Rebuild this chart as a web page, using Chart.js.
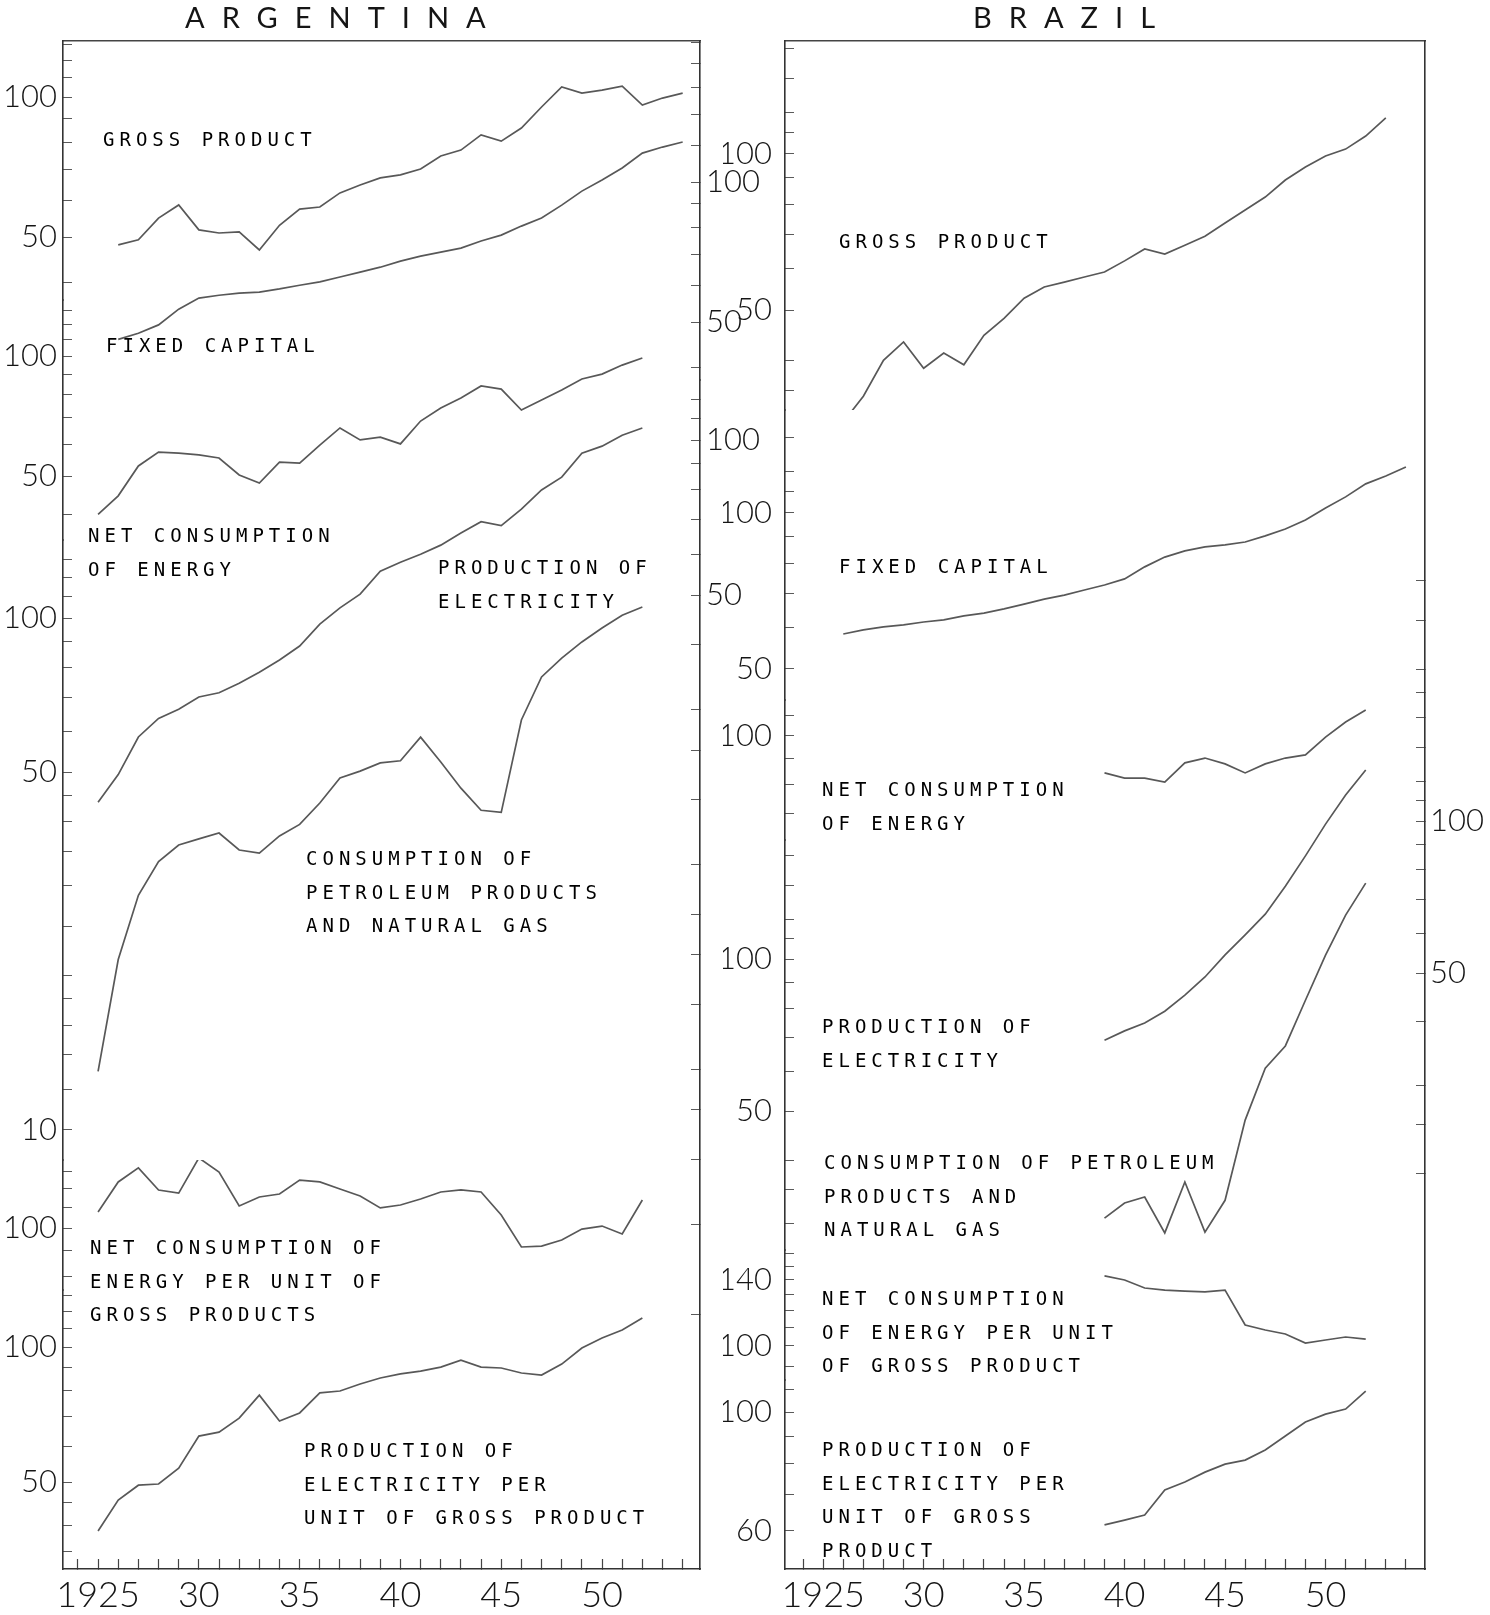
<!DOCTYPE html>
<html>
<head>
<meta charset="utf-8">
<script src="https://cdn.jsdelivr.net/npm/chart.js@4.4.1/dist/chart.umd.min.js"></script>
<style>
  html, body { margin: 0; padding: 0; background: #ffffff; }
  #wrap { position: relative; width: 1490px; height: 1615px; overflow: hidden; background: #ffffff; }
  canvas { position: absolute; top: 0; }
  #cArg { left: 0px; }
  #cBra { left: 700px; }
</style>
</head>
<body>
<div id="wrap">
  <canvas id="cArg" width="780" height="1615"></canvas>
  <canvas id="cBra" width="790" height="1615"></canvas>
</div>
<script>
// ================= DATA (index numbers) =================
const xTickYears  = [1925, 1930, 1935, 1940, 1945, 1950];
const xTickLabels = ['1925', '30', '35', '40', '45', '50'];
const xMarkYears  = [1924,1925,1926,1927,1928,1929,1930,1931,1932,1933,1934,1935,1936,1937,1938,1939,
                     1940,1941,1942,1943,1944,1945,1946,1947,1948,1949,1950,1951,1952,1953,1954];

// ---- Argentina ----
const argYearsTop = [1926,1927,1928,1929,1930,1931,1932,1933,1934,1935,1936,1937,1938,1939,1940,
                     1941,1942,1943,1944,1945,1946,1947,1948,1949,1950,1951,1952,1953,1954];
const argYears    = [1925,1926,1927,1928,1929,1930,1931,1932,1933,1934,1935,1936,1937,1938,1939,1940,
                     1941,1942,1943,1944,1945,1946,1947,1948,1949,1950,1951,1952];

const argGrossProduct = [48.1,49.3,54.9,58.6,51.8,51.0,51.3,46.9,53.0,57.4,58.0,62.2,64.7,67.0,68.0,
                         70.0,74.7,76.9,82.9,80.4,85.8,95.2,105.1,102.0,103.5,105.6,96.1,99.5,102.0];
const argFixedCapital = [45.9,47.3,49.3,53.3,56.3,57.1,57.7,58.0,58.9,60.0,61.0,62.5,64.0,65.6,67.6,
                         69.3,70.7,72.1,74.7,76.9,80.4,83.7,89.2,95.6,101.0,107.2,115.4,118.9,121.9];
const argEnergy       = [40.1,44.6,53.0,57.4,57.1,56.5,55.5,50.3,48.0,54.2,53.9,59.8,66.0,61.6,62.6,60.2,
                         68.7,74.1,78.5,84.1,82.6,73.2,77.6,82.2,87.6,90.1,94.9,98.9];
const argElectricity  = [19.8,22.4,26.5,28.8,30.0,31.7,32.3,33.7,35.4,37.4,39.8,43.9,47.2,50.2,55.6,57.9,
                         60.0,62.5,66.0,69.4,68.2,73.4,80.0,84.7,94.3,97.3,102.2,105.5];
const argPetroleum    = [13.0,21.5,28.7,33.4,36.0,37.0,38.0,35.2,34.7,37.5,39.5,43.5,48.7,50.2,52.1,52.6,
                         58.5,52.3,46.5,42.1,41.7,63.2,76.7,83.5,89.8,95.6,101.3,105.1];
const argEnergyPerGP  = [107.7,123.7,132.0,119.2,117.5,138.2,129.5,110.7,115.4,117.0,124.8,123.7,119.7,115.9,
                         109.7,111.2,114.3,118.1,119.2,118.1,106.2,91.6,92.0,94.6,99.5,100.9,97.3,113.8];
const argElecPerGP    = [38.9,45.6,49.2,49.5,53.7,63.3,64.6,69.4,78.1,68.4,71.3,79.0,79.8,82.7,85.3,87.1,
                         88.4,90.2,93.5,90.2,89.8,87.5,86.6,91.6,99.5,104.7,109.1,116.1];

// ---- Brazil ----
const braYearsGP = [1926,1927,1928,1929,1930,1931,1932,1933,1934,1935,1936,1937,1938,1939,1940,
                    1941,1942,1943,1944,1945,1946,1947,1948,1949,1950,1951,1952,1953];
const braYearsFC = [1926,1927,1928,1929,1930,1931,1932,1933,1934,1935,1936,1937,1938,1939,1940,
                    1941,1942,1943,1944,1945,1946,1947,1948,1949,1950,1951,1952,1953,1954];
const braYears   = [1939,1940,1941,1942,1943,1944,1945,1946,1947,1948,1949,1950,1951,1952];

const braGrossProduct = [30.4,34.1,40.0,43.4,38.6,41.3,39.2,44.7,48.2,52.7,55.4,56.6,57.9,59.2,
                         62.2,65.6,64.1,66.7,69.4,73.6,78.0,82.6,89.1,94.4,99.1,102.2,108.3,117.4];
const braFixedCapital = [58.4,59.5,60.3,60.8,61.6,62.2,63.3,64.1,65.3,66.7,68.2,69.4,71.0,72.6,74.6,
                         78.7,82.2,84.5,86.0,86.8,87.9,90.3,93.1,96.9,102.2,107.4,113.8,117.8,122.7];
const braEnergy       = [84.3,82.3,82.3,80.8,88.3,90.3,87.9,84.3,87.9,90.3,91.6,99.5,106.7,112.8];
const braElectricity  = [36.8,38.4,39.8,42.0,45.2,49.1,54.3,59.5,65.4,74.3,85.3,98.6,112.6,126.2];
const braPetroleum    = [30.7,32.9,33.8,28.7,36.2,28.8,33.3,48.0,60.8,67.3,82.9,101.8,122.2,141.4];
const braEnergyPerGP  = [142.9,140.0,134.4,133.0,132.3,131.7,133.0,111.3,108.5,106.3,101.5,103.1,104.7,103.6];
const braElecPerGP    = [61.5,62.8,64.2,71.5,74.0,77.2,79.9,81.3,84.9,90.2,95.8,99.1,101.3,109.4];

// ================= LAYOUT / STYLE =================
const LINE_COLOR = '#585858';
const INK = '#151515';
const NUM_FONT = "Lato, 'DejaVu Sans', sans-serif";
const NOTE_FONT = "'DejaVu Sans Mono', 'Liberation Mono', monospace";

// stacked log axes, listed top to bottom: each owns a horizontal band (weight = band height);
// the lines may run past their band, the scale simply extends
const argAxes = {
  a1:  { pos: 'left',  w: 259,  min: 36.60, max: 132.0, labels: [50, 100],     marks: [40,50,60,70,80,90,100,110,120,130] },
  a2:  { pos: 'left',  w: 240,  min: 34.56, max: 138.2, labels: [50, 100],     marks: [40,50,60,70,80,90,100,110,120,130] },
  a3:  { pos: 'left',  w: 620,  min: 8.72,  max: 142.1, labels: [10, 50, 100], marks: [10,12,14,16,18,20,25,30,35,40,45,50,60,70,80,90,100,110,120,130] },
  a4:  { pos: 'left',  w: 130,  min: 75.10, max: 136.9, labels: [100],         marks: [80,90,100,110,120,130] },
  a5:  { pos: 'left',  w: 279,  min: 32.0,  max: 134.0, labels: [50, 100],     marks: [35,40,45,50,60,70,80,90,100,110,120,130] },
  ar1: { pos: 'right', w: 339,  min: 37.53, max: 201.0, labels: [50, 100],     marks: [40,50,60,70,80,90,100,120,140,160,180,200] },
  ar2: { pos: 'right', w: 1189, min: 0.6417, max: 130.8, labels: [50, 100],    marks: [2,3,4,5,6,8,10,12,15,20,25,30,40,50,60,70,80,90,100,110,120] }
};
const braAxes = {
  b1:  { pos: 'left',  w: 369,  min: 32.07, max: 165.2, labels: [50, 100],  marks: [35,40,50,60,70,80,90,100,110,120,140,160] },
  b2:  { pos: 'left',  w: 290,  min: 43.56, max: 158.0, labels: [50, 100],  marks: [50,60,70,80,90,100,110,120,140] },
  b3:  { pos: 'left',  w: 140,  min: 61.82, max: 118.1, labels: [100],      marks: [70,80,90,100,110] },
  b4:  { pos: 'left',  w: 410,  min: 26.55, max: 172.1, labels: [50, 100],  marks: [30,35,40,50,60,70,80,90,100,110,120,140,160] },
  b5:  { pos: 'left',  w: 130,  min: 84.09, max: 163.1, labels: [100, 140], marks: [90,100,110,120,130,140,150,160] },
  b6:  { pos: 'left',  w: 189,  min: 50.87, max: 114.8, labels: [60, 100],  marks: [60,70,80,90,100,110] },
  br:  { pos: 'right', w: 1528, min: 3.30,  max: 3507,  labels: [50, 100],  marks: [20,25,30,40,50,60,70,80,90,100,110,120,140,160,180,200,250,300] }
};

function logAxis(a, sideWidth, labelPad) {
  return {
    type: 'logarithmic',
    position: a.pos,
    stack: a.pos, stackWeight: a.w,
    min: a.min, max: a.max, bounds: 'data',
    afterFit: s => { s.width = sideWidth; },
    afterBuildTicks: s => { s.ticks = a.marks.map(v => ({ value: v })); },
    ticks: {
      autoSkip: false, padding: labelPad, color: INK,
      font: { family: NUM_FONT, size: 31, weight: '300' },
      callback: v => (a.labels.indexOf(v) >= 0 ? String(v) : '')
    },
    grid: { display: true, drawOnChartArea: false, drawTicks: true, tickLength: -9, tickColor: '#5a5a5a', tickWidth: 1 },
    border: { display: true, color: '#333', width: 1.6 }
  };
}

function series(years, values, axisId) {
  return {
    data: years.map((yr, i) => ({ x: yr, y: values[i] })),
    yAxisID: axisId,
    borderColor: LINE_COLOR, borderWidth: 1.7,
    pointRadius: 0, pointHoverRadius: 0, fill: false, tension: 0
  };
}

function textPlugin(title, titleX, notes) {
  return {
    id: 'panelText',
    afterDraw(chart) {
      const ctx = chart.ctx;
      ctx.save();
      ctx.fillStyle = INK;
      ctx.textBaseline = 'middle';
      ctx.textAlign = 'left';
      ctx.font = "400 29px Lato, 'DejaVu Sans', sans-serif";
      ctx.letterSpacing = '17px';
      ctx.fillText(title, titleX, 19);
      ctx.fillStyle = '#000';
      ctx.font = "19px " + NOTE_FONT;
      ctx.letterSpacing = '5px';
      for (const n of notes) {
        n.lines.forEach((ln, i) => ctx.fillText(ln, n.x, n.y + i * 33.7));
      }
      ctx.restore();
    }
  };
}

function buildPanel(canvasId, axes, xMin, xMax, datasets, pad, plugin) {
  const scales = {
    x: {
      type: 'linear', position: 'bottom', min: xMin, max: xMax, bounds: 'data',
      afterFit: s => { s.height = 46; },
      afterBuildTicks: s => { s.ticks = xMarkYears.map(v => ({ value: v })); },
      ticks: {
        autoSkip: false, maxRotation: 0, minRotation: 0, padding: 15, color: INK,
        font: { family: NUM_FONT, size: 36, weight: '300' },
        callback: v => { const k = xTickYears.indexOf(v); return k >= 0 ? xTickLabels[k] : ''; }
      },
      grid: { display: true, drawOnChartArea: false, drawTicks: true, tickLength: -10, tickColor: '#444', tickWidth: 1.2 },
      border: { display: true, color: '#333', width: 1.6 }
    },
    xt: {
      type: 'linear', position: 'top', min: xMin, max: xMax, bounds: 'data',
      afterFit: s => { s.height = 0; },
      ticks: { display: false },
      grid: { display: false },
      border: { display: true, color: '#444', width: 1.4 }
    }
  };
  // Chart.js stacks left-side axes in reverse insertion order, so add those bottom-first
  const ids = Object.keys(axes);
  const leftIds = ids.filter(id => axes[id].pos === 'left').reverse();
  const rightIds = ids.filter(id => axes[id].pos === 'right');
  for (const id of leftIds) scales[id] = logAxis(axes[id], pad.wl, pad.lpL);
  for (const id of rightIds) scales[id] = logAxis(axes[id], pad.wr, pad.lpR);
  return new Chart(document.getElementById(canvasId), {
    type: 'line',
    data: { datasets },
    options: {
      responsive: false, maintainAspectRatio: false, animation: false, devicePixelRatio: 1,
      layout: { autoPadding: false, padding: { left: pad.l, right: pad.r, top: 41, bottom: 0 } },
      plugins: { legend: { display: false }, tooltip: { enabled: false }, title: { display: false } },
      events: [],
      scales
    },
    plugins: [plugin]
  });
}

// ---- Argentina panel ----
buildPanel('cArg', argAxes, 1923.26, 1954.86, [
  series(argYearsTop, argGrossProduct, 'a1'),
  series(argYearsTop, argFixedCapital, 'ar1'),
  series(argYears, argEnergy, 'a2'),
  series(argYears, argElectricity, 'ar2'),
  series(argYears, argPetroleum, 'a3'),
  series(argYears, argEnergyPerGP, 'a4'),
  series(argYears, argElecPerGP, 'a5')
], { l: 1, wl: 62, r: 10, wr: 70, lpL: 15, lpR: 15 }, textPlugin('ARGENTINA', 185, [
  { x: 103, y: 141, lines: ['GROSS PRODUCT'] },
  { x: 106, y: 347, lines: ['FIXED CAPITAL'] },
  { x: 88,  y: 537, lines: ['NET CONSUMPTION', 'OF ENERGY'] },
  { x: 438, y: 569, lines: ['PRODUCTION OF', 'ELECTRICITY'] },
  { x: 306, y: 860, lines: ['CONSUMPTION OF', 'PETROLEUM PRODUCTS', 'AND NATURAL GAS'] },
  { x: 90,  y: 1249, lines: ['NET CONSUMPTION OF', 'ENERGY PER UNIT OF', 'GROSS PRODUCTS'] },
  { x: 304, y: 1452, lines: ['PRODUCTION OF', 'ELECTRICITY PER', 'UNIT OF GROSS PRODUCT'] }
]));

// ---- Brazil panel ----
buildPanel('cBra', braAxes, 1923.1, 1954.95, [
  series(braYearsGP, braGrossProduct, 'b1'),
  series(braYearsFC, braFixedCapital, 'b2'),
  series(braYears, braEnergy, 'b3'),
  series(braYears, braElectricity, 'br'),
  series(braYears, braPetroleum, 'b4'),
  series(braYears, braEnergyPerGP, 'b5'),
  series(braYears, braElecPerGP, 'b6')
], { l: 23, wl: 62, r: 0, wr: 65, lpL: 22, lpR: 14 }, textPlugin('BRAZIL', 273, [
  { x: 139, y: 243, lines: ['GROSS PRODUCT'] },
  { x: 139, y: 568, lines: ['FIXED CAPITAL'] },
  { x: 122, y: 791, lines: ['NET CONSUMPTION', 'OF ENERGY'] },
  { x: 122, y: 1028, lines: ['PRODUCTION OF', 'ELECTRICITY'] },
  { x: 124, y: 1164, lines: ['CONSUMPTION OF PETROLEUM', 'PRODUCTS AND', 'NATURAL GAS'] },
  { x: 122, y: 1300, lines: ['NET CONSUMPTION', 'OF ENERGY PER UNIT', 'OF GROSS PRODUCT'] },
  { x: 122, y: 1451, lines: ['PRODUCTION OF', 'ELECTRICITY PER', 'UNIT OF GROSS', 'PRODUCT'] }
]));
</script>
</body>
</html>
